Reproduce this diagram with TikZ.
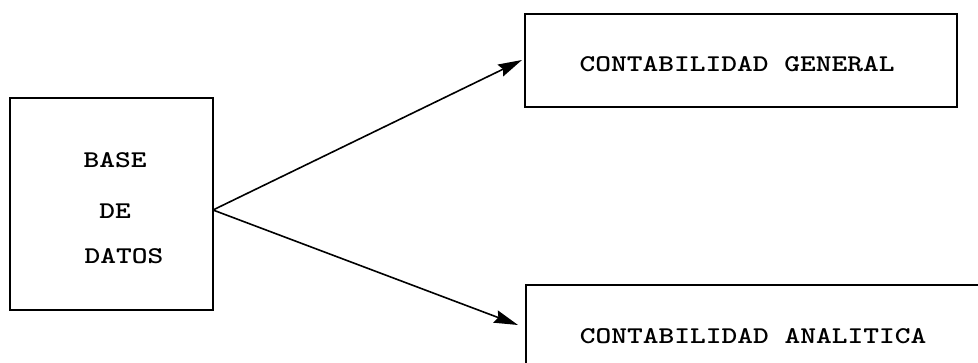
\documentclass[tikz,border=0pt]{standalone}
\usepackage{fontspec}
\usepackage{graphicx}
\usetikzlibrary{arrows.meta}
\newcommand{\wtt}[1]{\scalebox{1.25}[1]{#1}}
\begin{document}
\begin{tikzpicture}[x=1pt,y=-1pt,
  boxstyle/.style={draw=black, line width=1.6pt, inner sep=0pt},
  lbl/.style={font=\ttfamily\bfseries\fontsize{24}{28}\selectfont, inner sep=0pt, anchor=center},
  conn/.style={line width=1.6pt, -{Stealth[length=24pt,width=13pt,inset=3pt]}}]
\useasboundingbox (0,0) rectangle (978,363);
\clip (0,0) rectangle (978,363);
\node[boxstyle, minimum width=203pt, minimum height=212pt] (db) at (111.5,204) {};
\node[boxstyle, minimum width=432pt, minimum height=93pt] (gen) at (741,60.5) {};
\node[boxstyle, minimum width=500pt, minimum height=120pt] (ana) at (776,345) {};
\node[lbl] (t1) at (115,160) {\wtt{BASE}};
\node[lbl] (t2) at (115,211) {\wtt{DE}};
\node[lbl] (t3) at (124,256) {\wtt{DATOS}};
\node[lbl] (t4) at (737,64) {\wtt{CONTABILIDAD GENERAL}};
\node[lbl] (t5) at (753,336) {\wtt{CONTABILIDAD ANALITICA}};
\coordinate (o) at (213,210);
\coordinate (ta) at (522,60);
\coordinate (tb) at (518,325);
\draw[conn] (o) -- (ta);
\draw[conn] (o) -- (tb);
\end{tikzpicture}
\end{document}
